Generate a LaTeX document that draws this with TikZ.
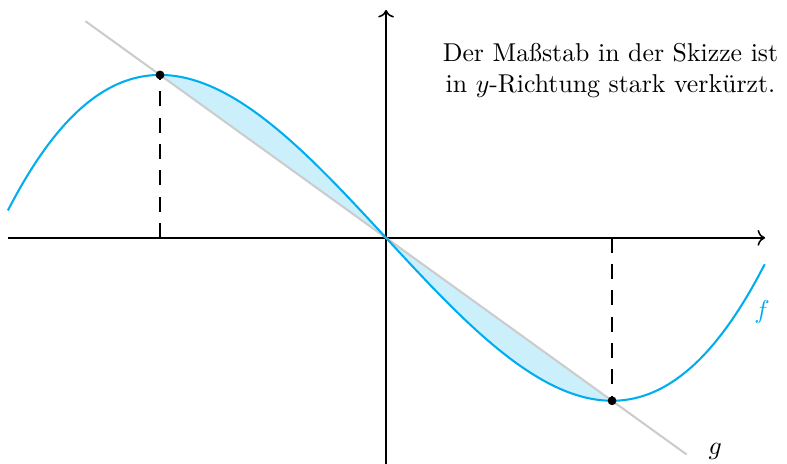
\documentclass[tikz,border=0pt]{standalone}
\usetikzlibrary{arrows.meta,positioning}

\begin{document}
\begin{tikzpicture}[x=3.08cm,y=2.22cm,
  curve/.style={cyan,thick}, gline/.style={gray!40,thick},
  axis/.style={semithick,->}, lot/.style={thick,dash pattern=on 5.8pt off 4.4pt},
  dot/.style={circle,fill,inner sep=0pt,minimum size=3.4pt}]
  \useasboundingbox (-1.708,-1.387) rectangle (1.774,1.460);

  % shaded area between f and g
  \fill[cyan!20] plot[domain=-1:1,samples=80,smooth] (\x,{(\x*\x*\x-3*\x)/2}) -- cycle;

  % axes
  \coordinate (O) at (0,0);
  \draw[axis] (-1.673,0) -- (1.677,0);
  \draw[axis] (0,-1.387) -- (0,1.399);

  % straight line g
  \draw[gline] (-1.33,1.33) -- (1.33,-1.33);
  \node (glab) at (1.456,-1.31) {$g$};

  % cubic f
  \draw[curve] plot[domain=-1.673:1.677,samples=120,smooth] (\x,{(\x*\x*\x-3*\x)/2});
  \node[cyan] (flab) at (1.664,-0.454) {$f$};

  % extrema
  \coordinate (hoch) at (-1,1);
  \coordinate (tief) at (1,-1);
  \draw[lot] (hoch |- O) -- (hoch);
  \draw[lot] (tief |- O) -- (tief);
  \node[dot] (hp) at (hoch) {};
  \node[dot] (tp) at (tief) {};

  \node[align=center] (hinweis) at (0.993,1.025)
    {Der Maßstab in der Skizze ist\\in $y$-Richtung stark verkürzt.};
\end{tikzpicture}
\end{document}
